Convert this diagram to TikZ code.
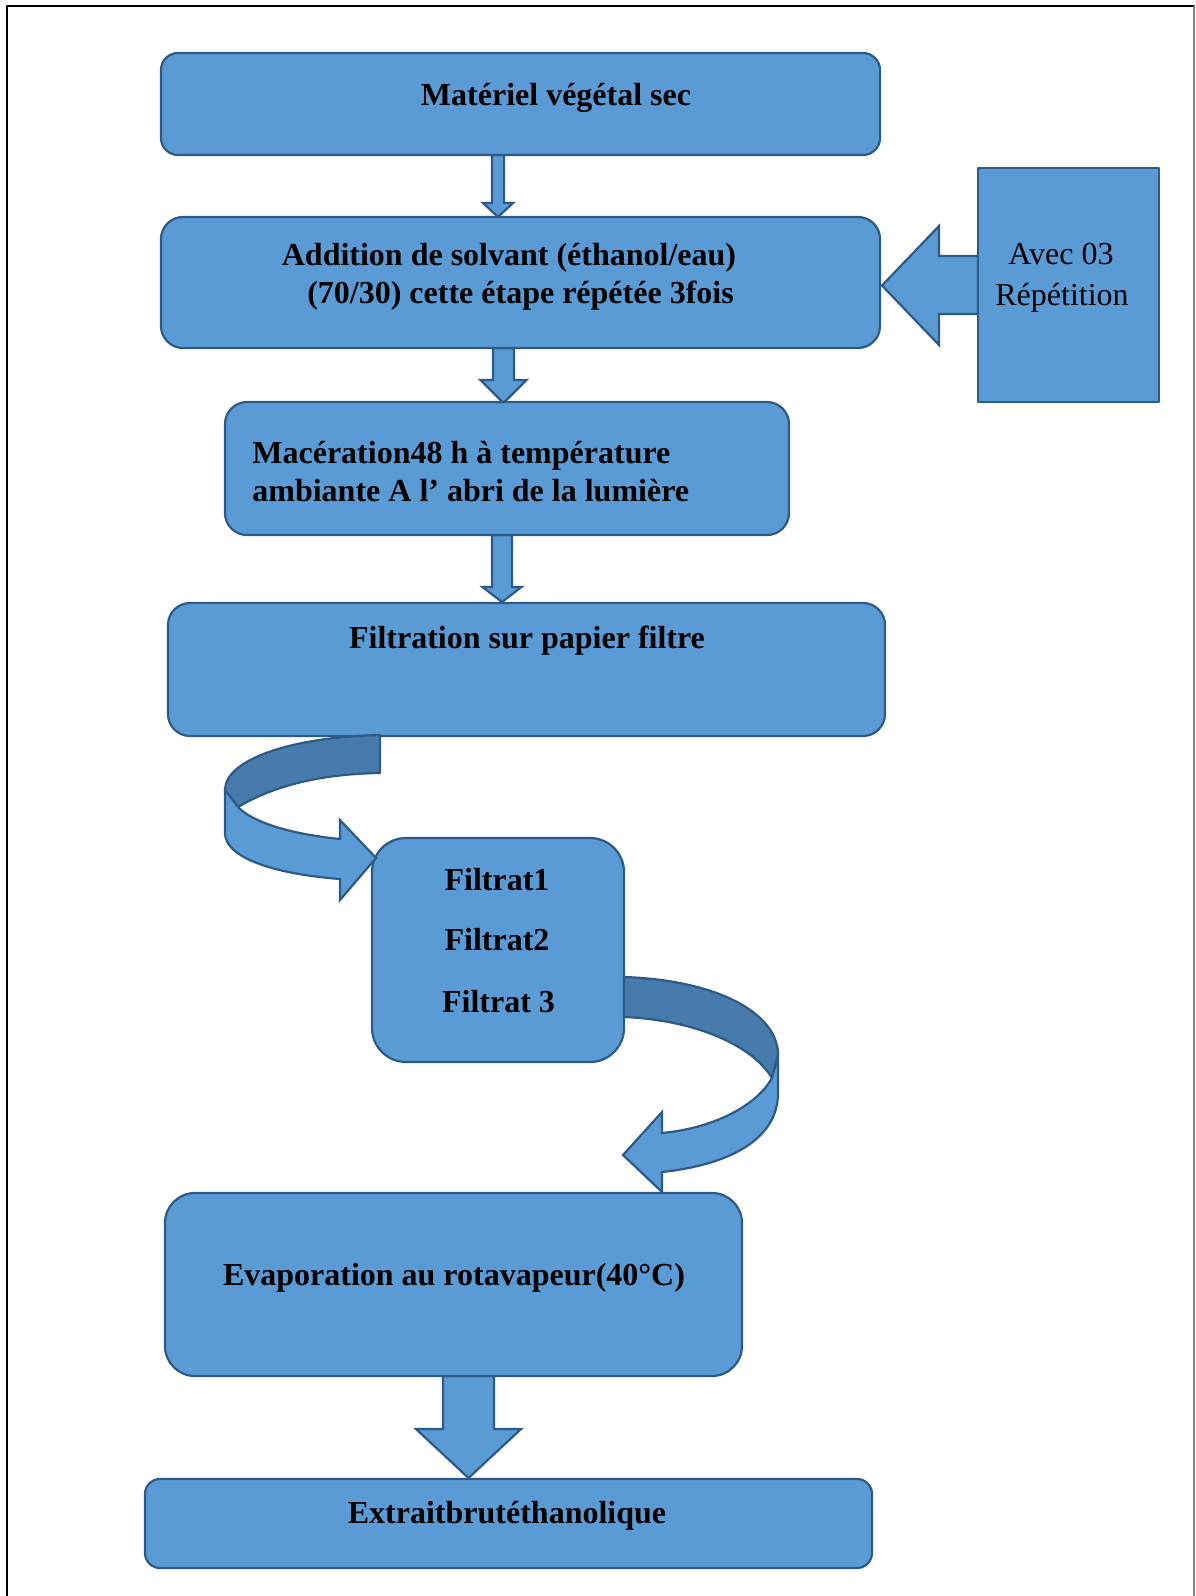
\documentclass[tikz,border=0pt]{standalone}
\usepackage{fontspec}
\setmainfont{Liberation Serif}
\usetikzlibrary{calc}

\definecolor{boxblue}{HTML}{5B9BD5}
\definecolor{boxline}{HTML}{2E5A87}
\definecolor{boxdark}{HTML}{477BAB}

\tikzset{
  stepbox/.style={draw=boxline, fill=boxblue, line width=1.1pt, rounded corners=11pt, inner sep=0pt},
  steptext/.style={font=\fontsize{16}{18.5}\selectfont\bfseries, anchor=base, inner sep=0pt},
  notetext/.style={font=\fontsize{16}{20}\selectfont, anchor=base, inner sep=0pt},
  blockarrow/.style={draw=boxline, fill=boxblue, line width=1.1pt, line join=miter},
  ribbonback/.style={draw=boxline, fill=boxdark, line width=1.1pt}
}

% straight block arrow: x, top y, tip y, shaft half width, head half width, head base y
\newcommand{\downblock}[6]{%
  \draw[blockarrow] (#1-#4,#2) -- (#1-#4,#6) -- (#1-#5,#6) -- (#1,#3)
    -- (#1+#5,#6) -- (#1+#4,#6) -- (#1+#4,#2) -- cycle;}

\begin{document}
\begin{tikzpicture}[
    x=0.5pt, y=-0.5pt,      % one unit = one pixel of the layout, y downwards
    line cap=round,
    line join=round
]

\useasboundingbox (0,0) rectangle (1195,1596);

%-----------------------
% 0) PAGE FRAME
%-----------------------
\draw[line width=1.1pt] (7,1596) -- (7,6) -- (1194,6);
\draw[gray, line width=0.7pt] (1194,6) -- (1194,1596);

%-----------------------
% 1) STRAIGHT ARROWS (behind the boxes)
%-----------------------
\downblock{498}{155}{217}{6}{15}{203}
\downblock{503.5}{348}{403}{10.5}{23}{380}
\downblock{502}{535}{602}{10}{19.5}{587}
\downblock{468.5}{1376}{1478}{25.5}{52.5}{1429}

% arrow coming from the repetition box
\draw[blockarrow] (978,256) -- (939,256) -- (939,226) -- (882,285.5)
  -- (939,345) -- (939,314) -- (978,314) -- cycle;

%-----------------------
% 2) PROCESS BOXES
%-----------------------
\node[stepbox, minimum width=359.5pt, minimum height=51pt, rounded corners=8.5pt] (mat) at (520.5,104) {};
\node[steptext] (mattxt) at (556,105) {Matériel végétal sec};

\node[stepbox, minimum width=359.5pt, minimum height=65.5pt] (add) at (520.5,282.5) {};
\node[steptext] (addtxt1) at (509,265) {Addition de solvant (éthanol/eau)};
\node[steptext] (addtxt2) at (520.5,303) {(70/30) cette étape répétée 3fois};

\node[stepbox, minimum width=282pt, minimum height=66.5pt] (mac) at (507,468.5) {};
\node[steptext, anchor=base west] (mactxt1) at (252,463) {Macération48 h à température};
\node[steptext, anchor=base west] (mactxt2) at (252,501) {ambiante A l’ abri de la lumière};

\node[stepbox, minimum width=358.5pt, minimum height=66.5pt] (fil) at (526.5,669.5) {};
\node[steptext] (filtxt) at (527,648) {Filtration sur papier filtre};

\node[stepbox, minimum width=126pt, minimum height=112pt, rounded corners=17pt] (filt) at (498,950) {};
\node[steptext] (filt1) at (497,890) {Filtrat1};
\node[steptext] (filt2) at (497,950) {Filtrat2};
\node[steptext] (filt3) at (498.5,1012) {Filtrat 3};

\node[stepbox, minimum width=288.5pt, minimum height=91.5pt, rounded corners=15pt] (evap) at (453.5,1284.5) {};
\node[steptext] (evaptxt) at (454,1285) {Evaporation au rotavapeur(40°C)};

\node[stepbox, minimum width=363.5pt, minimum height=44.5pt, rounded corners=7.5pt] (ext) at (508.5,1523.5) {};
\node[steptext] (exttxt) at (507,1523) {Extraitbrutéthanolique};

% repetition note
\node[stepbox, rounded corners=0pt, minimum width=90.5pt, minimum height=117pt] (rep) at (1068.5,285) {};
\node[notetext] (reptxt1) at (1061,264) {Avec 03};
\node[notetext] (reptxt2) at (1062,305) {Répétition};

%-----------------------
% 3) CURVED ARROWS
%-----------------------
% from the filtration box down to the filtrates
\draw[ribbonback] (380,735) .. controls (290,737) and (225,760) .. (225,790)
  -- (238,807) .. controls (270,788) and (315,774) .. (380,773) -- cycle;
\draw[blockarrow] (225,790) -- (225,833) .. controls (225,858) and (275,874) .. (340,879)
  -- (340,900) -- (376,858) -- (340,820) -- (340,839)
  .. controls (290,834) and (252,822) .. (238,807) -- cycle;

% from the filtrates down to the evaporation
\draw[ribbonback] (624,977) .. controls (715,980) and (778,1012) .. (778,1055)
  -- (772,1078) .. controls (752,1045) and (695,1020) .. (624,1017) -- cycle;
\draw[blockarrow] (772,1078) -- (778,1055) -- (778,1093)
  .. controls (778,1140) and (728,1165) .. (662,1172)
  -- (662,1192) -- (623,1155) -- (662,1112) -- (662,1133)
  .. controls (715,1128) and (757,1105) .. (772,1078) -- cycle;

\end{tikzpicture}
\end{document}
